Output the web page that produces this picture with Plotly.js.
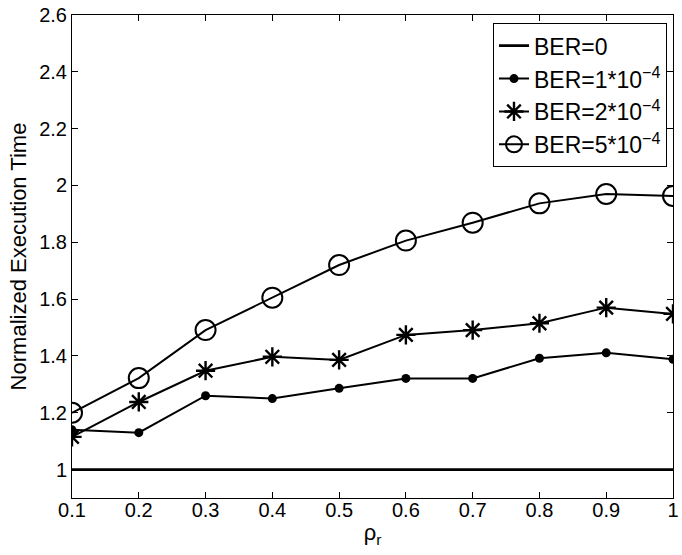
<!DOCTYPE html>
<html>
<head>
<meta charset="utf-8">
<script src="https://cdn.plot.ly/plotly-3.0.1.min.js"></script>
<style>html,body{margin:0;padding:0;background:#fff;}#chart{width:682px;height:555px;}</style>
</head>
<body>
<div id="chart"></div>
<script>
const rho = [0.1, 0.2, 0.3, 0.4, 0.5, 0.6, 0.7, 0.8, 0.9, 1.0];
const ber0 = [1, 1, 1, 1, 1, 1, 1, 1, 1, 1];
const ber1 = [1.14, 1.13, 1.26, 1.25, 1.286, 1.321, 1.321, 1.392, 1.411, 1.388];
const ber2 = [1.115, 1.238, 1.348, 1.397, 1.386, 1.474, 1.491, 1.515, 1.570, 1.548];
const ber5 = [1.20, 1.322, 1.491, 1.605, 1.720, 1.806, 1.869, 1.937, 1.970, 1.963];
const names = ['BER=0', 'BER=1*10<sup>−4</sup>', 'BER=2*10<sup>−4</sup>', 'BER=5*10<sup>−4</sup>'];
const yTicks = [1, 1.2, 1.4, 1.6, 1.8, 2, 2.2, 2.4, 2.6];
const yTickText = ['1', '1.2', '1.4', '1.6', '1.8', '2', '2.2', '2.4', '2.6'];
const xTicks = [0.1, 0.2, 0.3, 0.4, 0.5, 0.6, 0.7, 0.8, 0.9, 1];
const xTickText = ['0.1', '0.2', '0.3', '0.4', '0.5', '0.6', '0.7', '0.8', '0.9', '1'];

const traces = [
  {x: rho, y: ber0, name: names[0], mode: 'lines', line: {color: '#000', width: 2.8}},
  {x: rho, y: ber1, name: names[1], mode: 'lines+markers', line: {color: '#000', width: 2},
   marker: {symbol: 'circle', size: 9, color: '#000'}},
  {x: rho, y: ber2, name: names[2], mode: 'lines+markers', line: {color: '#000', width: 2},
   marker: {symbol: 'asterisk-open', size: 16, color: '#000', line: {color: '#000', width: 2.4}}},
  {x: rho, y: ber5, name: names[3], mode: 'lines+markers', line: {color: '#000', width: 2},
   marker: {symbol: 'circle-open', size: 20, color: '#000', line: {color: '#000', width: 2}}}
];

const fam = 'Liberation Sans, Arial, sans-serif';
const tickFont = {family: fam, size: 20, color: '#000'};
const titleFont = {family: fam, size: 22, color: '#000'};
const layout = {
  width: 682, height: 555,
  margin: {l: 72, r: 9, t: 15, b: 57},
  paper_bgcolor: '#fff', plot_bgcolor: '#fff',
  font: tickFont,
  showlegend: true,
  legend: {x: 0.99, y: 0.983, xanchor: 'right', yanchor: 'top',
           bgcolor: '#fff', bordercolor: '#000', borderwidth: 1,
           font: {family: fam, size: 23, color: '#000'}, tracegroupgap: 0},
  xaxis: {range: [0.1, 1], tickvals: xTicks, ticktext: xTickText, ticks: 'inside', ticklen: 6,
          tickcolor: '#000', showline: true, linecolor: '#000', linewidth: 1, mirror: 'ticks',
          showgrid: false, zeroline: false, tickfont: tickFont, ticklabelstandoff: -6,
          title: {text: 'ρ<sub>r</sub>', font: titleFont, standoff: 4}},
  yaxis: {range: [0.9, 2.6], tickvals: yTicks, ticktext: yTickText, ticks: 'inside', ticklen: 6,
          tickcolor: '#000', showline: true, linecolor: '#000', linewidth: 1, mirror: 'ticks',
          showgrid: false, zeroline: false, tickfont: tickFont,
          title: {text: 'Normalized Execution Time', font: titleFont, standoff: 6}}
};
Plotly.newPlot('chart', traces, layout, {displayModeBar: false, staticPlot: true});
</script>
</body>
</html>
